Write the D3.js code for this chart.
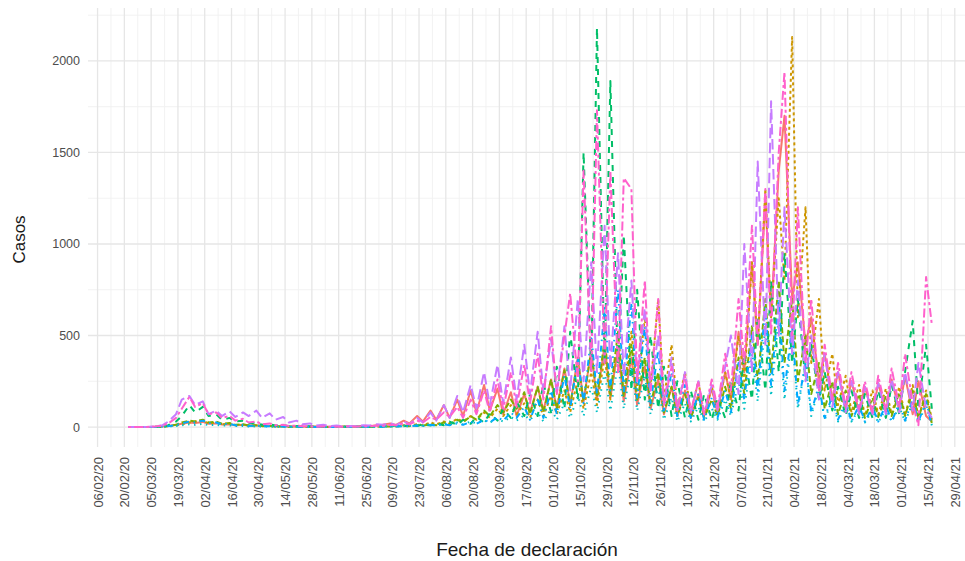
<!DOCTYPE html>
<html><head><meta charset="utf-8">
<script src="https://cdn.jsdelivr.net/npm/d3@7"></script>
<style>body{margin:0;background:#fff}svg{display:block}text{font-family:"Liberation Sans",Arial,Helvetica,sans-serif}</style>
</head><body><svg id="c" width="965" height="561"></svg>
<script>
// ---- data ----
const seriesNames = ["Almería","Cádiz","Córdoba","Granada","Huelva","Jaén","Málaga","Sevilla"];
const seriesColors = ["#F8766D","#CD9600","#7CAE00","#00BE67","#00BFC4","#00A9FF","#C77CFF","#FF61CC"];
const seriesDash = [null,"3,3","6,3","6,6","1.5,4.5","1.5,4.5,6,4.5","10.5,4.5","3,3,9,3"];
const firstDate = "22/02/20";   // first observation, then two observations per week
const almeria = [0,0,0,0,1,3,6,12,18,25, 22,28,18,20,14,15,10,12,8,9, 6,7,4,5,3,3,2,2,1,2, 1,2,2,4,3,6,5,10,12,20,
  12,35,20,60,30,90,40,120,50,150, 60,200,80,230,90,210,70,190,60,180, 80,220,90,260,100,320,120,380,140,420,
  150,450,160,430,140,380,120,330,100,260, 70,220,60,200,50,180,60,210,80,300, 150,520,300,900,450,1250,600,1400,1700,700,
  900,450,600,250,400,150,300,100,250,80, 220,70,240,80,260,90,280,70,250,60, 30];
const cadiz = [0,0,0,0,0,2,5,10,15,25, 30,35,20,25,15,18,10,12,8,10, 5,6,3,4,2,3,1,2,1,1, 0,1,1,2,1,3,2,4,3,6,
  5,10,8,15,10,25,15,30,20,45, 30,60,40,80,50,100,60,120,70,130, 50,150,60,170,70,200,80,260,100,300,
  120,380,150,450,180,520,200,600,220,700, 150,450,100,300,80,250,60,220,80,300, 150,500,250,900,450,1300,600,1250,800,2130,
  600,1200,350,700,200,400,120,280,80,230, 60,200,70,210,70,220,60,230,50,200, 40];
const cordoba = [0,0,0,0,0,2,6,12,25,35, 30,40,25,30,18,22,12,15,8,10, 5,6,3,4,2,2,1,2,1,1, 0,1,1,1,1,2,2,3,2,4,
  3,6,5,10,8,15,10,25,15,40, 25,60,40,90,60,120,80,150,100,190, 70,220,80,260,100,310,120,360,140,420,
  160,480,180,520,170,450,140,380,120,300, 80,220,60,180,50,160,50,150,60,220, 100,380,180,550,250,700,300,800,350,700,
  250,500,180,350,100,250,70,200,60,180, 50,160,55,170,60,190,60,200,50,180, 20];
const granada = [0,0,0,0,1,4,10,30,60,120, 80,110,60,70,40,50,30,35,20,25, 12,15,8,10,5,6,3,4,2,2, 1,2,1,2,1,3,2,4,3,5,
  8,4,12,6,15,8,20,10,30,12, 40,18,55,25,75,35,100,50,140,60, 180,60,240,80,330,100,520,150,1500,300,
  2180,350,1890,300,1050,200,750,150,500,100, 330,60,250,50,200,40,180,40,160,50, 250,90,400,150,600,200,800,300,950,350,
  700,250,450,150,300,90,220,60,200,50, 180,50,200,50,230,70,300,580,100,450, 100];
const huelva = [0,0,0,0,0,1,3,6,10,15, 12,18,10,12,8,9,5,6,3,4, 2,3,1,2,1,1,1,1,0,1, 0,0,1,1,1,2,2,3,2,4,
  3,8,5,12,8,15,10,20,12,25, 15,30,20,35,25,45,30,55,35,65, 40,80,30,100,40,130,50,170,60,220,
  80,300,90,350,100,330,90,280,70,220, 40,160,30,130,30,110,30,100,40,150, 60,250,100,400,140,550,170,600,150,500,
  100,350,60,220,40,150,30,120,30,100, 25,90,25,100,30,110,30,130,25,120, 10];
const jaen = [0,0,0,0,0,2,5,10,20,30, 25,35,20,25,15,18,10,12,6,8, 4,5,2,3,1,2,1,1,0,1, 0,0,1,1,1,1,2,2,2,3,
  3,5,4,8,6,12,8,15,10,20, 12,28,18,40,25,55,35,80,50,110, 40,150,50,200,70,280,100,380,130,500,
  180,650,200,750,190,680,160,550,130,420, 90,300,60,230,50,180,40,160,50,200, 80,350,150,500,200,650,230,700,200,550,
  120,350,80,230,50,170,40,140,30,120, 30,110,30,120,30,130,35,150,30,140, 10];
const malaga = [0,0,0,1,3,10,30,70,150,170, 120,140,70,90,60,85,55,80,60,90, 50,75,40,55,25,35,15,20,8,12, 5,8,4,6,5,10,8,15,12,20,
  10,30,15,50,25,80,35,120,50,170, 80,230,100,300,120,340,130,380,150,450, 180,520,190,480,180,550,200,700,250,900,
  300,1100,320,950,280,800,250,650,200,500, 130,380,100,300,80,250,70,230,90,330, 500,180,1000,300,1450,450,1780,500,1200,400,
  800,250,500,150,400,110,300,80,250,70, 220,70,240,70,260,80,300,90,350,100, 50];
const sevilla = [0,0,0,1,3,8,20,50,100,165, 110,130,70,80,50,60,35,45,25,30, 15,20,10,12,6,8,4,5,2,3, 1,2,2,3,2,5,4,8,6,12,
  10,20,15,35,25,55,40,80,55,110, 50,150,70,200,80,260,100,300,110,340, 130,400,150,550,180,500,730,250,1400,300,
  1730,350,1400,300,1360,1300,250,800,200,700, 120,330,90,280,80,250,70,260,100,400, 200,700,350,1100,450,1300,500,1500,1940,500,
  1200,350,700,200,450,150,350,110,300,90, 250,80,280,90,320,110,400,130,10,820, 560];
const seriesValues = [almeria,cadiz,cordoba,granada,huelva,jaen,malaga,sevilla];
const xTickLabels = ["06/02/20","20/02/20","05/03/20","19/03/20","02/04/20","16/04/20","30/04/20","14/05/20","28/05/20","11/06/20",
  "25/06/20","09/07/20","23/07/20","06/08/20","20/08/20","03/09/20","17/09/20","01/10/20","15/10/20","29/10/20","12/11/20",
  "26/11/20","10/12/20","24/12/20","07/01/21","21/01/21","04/02/21","18/02/21","04/03/21","18/03/21","01/04/21","15/04/21","29/04/21"];
const yTicks = [0,500,1000,1500,2000];
const xTitle = "Fecha de declaración";
const yTitle = "Casos";

// ---- chart ----
const parse = d3.timeParse("%d/%m/%y");
const t0 = parse(firstDate);
const n = almeria.length;
const dates = d3.range(n).map(i => d3.timeDay.offset(t0, Math.round(i * 3.5)));
const tickDates = xTickLabels.map(parse);

const svg = d3.select("#c");
const panel = {l: 88, r: 972, t: 8, b: 447};

const dExt = d3.extent(dates);
const span = dExt[1] - dExt[0];
const x = d3.scaleTime().domain([new Date(+dExt[0] - 0.05*span), new Date(+dExt[1] + 0.05*span)]).range([panel.l, panel.r]);
const vmax = d3.max(seriesValues, s => d3.max(s));
const y = d3.scaleLinear().domain([-0.05*vmax, vmax*1.05]).range([panel.b, panel.t]);

const grid = svg.append("g");
// minor grid
const yMinor = d3.range(250, vmax*1.05, 500);
grid.selectAll(".ym").data(yMinor).join("line")
  .attr("x1", panel.l).attr("x2", panel.r).attr("y1", d=>y(d)).attr("y2", d=>y(d))
  .attr("stroke", "#F0F0F0").attr("stroke-width", 0.9);
const xMinor = [d3.timeDay.offset(tickDates[0], -7)].concat(tickDates.map(d => d3.timeDay.offset(d, 7)))
  .filter(d => x(d) >= panel.l && x(d) <= panel.r);
grid.selectAll(".xm").data(xMinor).join("line")
  .attr("y1", panel.t).attr("y2", panel.b).attr("x1", d=>x(d)).attr("x2", d=>x(d))
  .attr("stroke", "#F0F0F0").attr("stroke-width", 0.9);
// major grid
grid.selectAll(".yM").data(yTicks).join("line")
  .attr("x1", panel.l).attr("x2", panel.r).attr("y1", d=>y(d)).attr("y2", d=>y(d))
  .attr("stroke", "#E6E6E6").attr("stroke-width", 1.3);
grid.selectAll(".xM").data(tickDates).join("line")
  .attr("y1", panel.t).attr("y2", panel.b).attr("x1", d=>x(d)).attr("x2", d=>x(d))
  .attr("stroke", "#E6E6E6").attr("stroke-width", 1.3);

svg.append("clipPath").attr("id","clip").append("rect")
  .attr("x", panel.l).attr("y", panel.t).attr("width", panel.r-panel.l).attr("height", panel.b-panel.t);

const line = d3.line().x(d => x(d.date)).y(d => y(d.v));
const lines = svg.append("g").attr("clip-path","url(#clip)");
seriesValues.forEach((vals, k) => {
  const pts = vals.map((v, i) => ({date: dates[i], v}));
  lines.append("path").datum(pts)
    .attr("d", line)
    .attr("fill", "none")
    .attr("stroke", seriesColors[k])
    .attr("stroke-width", 2)
    .attr("stroke-linejoin", "round")
    .attr("stroke-dasharray", seriesDash[k]);
});

// axes (text only, like theme_minimal)
const yAxis = d3.axisLeft(y).tickValues(yTicks).tickFormat(d3.format("d")).tickSize(0).tickPadding(8);
const gy = svg.append("g").attr("transform", `translate(${panel.l},0)`).call(yAxis);
gy.select(".domain").remove();
gy.selectAll("text").attr("fill","#4D4D4D").style("font-size","12.5px");

const xAxis = d3.axisBottom(x).tickValues(tickDates).tickFormat(d3.timeFormat("%d/%m/%y")).tickSize(0);
const gx = svg.append("g").attr("transform", `translate(0,${panel.b})`).call(xAxis);
gx.select(".domain").remove();
gx.selectAll("text").attr("fill","#4D4D4D").style("font-size","13px")
  .attr("transform","rotate(-90)").attr("text-anchor","end")
  .attr("x", -10).attr("y", 0).attr("dy","0.35em");

svg.append("text").attr("x", (panel.l+panel.r)/2 - 3).attr("y", 556)
  .attr("text-anchor","middle").attr("fill","#1a1a1a").style("font-size","19px").text(xTitle);
svg.append("text").attr("transform", `translate(25,${(panel.t+panel.b)/2 + 12}) rotate(-90)`)
  .attr("text-anchor","middle").attr("fill","#1a1a1a").style("font-size","17px").text(yTitle);
</script></body></html>
